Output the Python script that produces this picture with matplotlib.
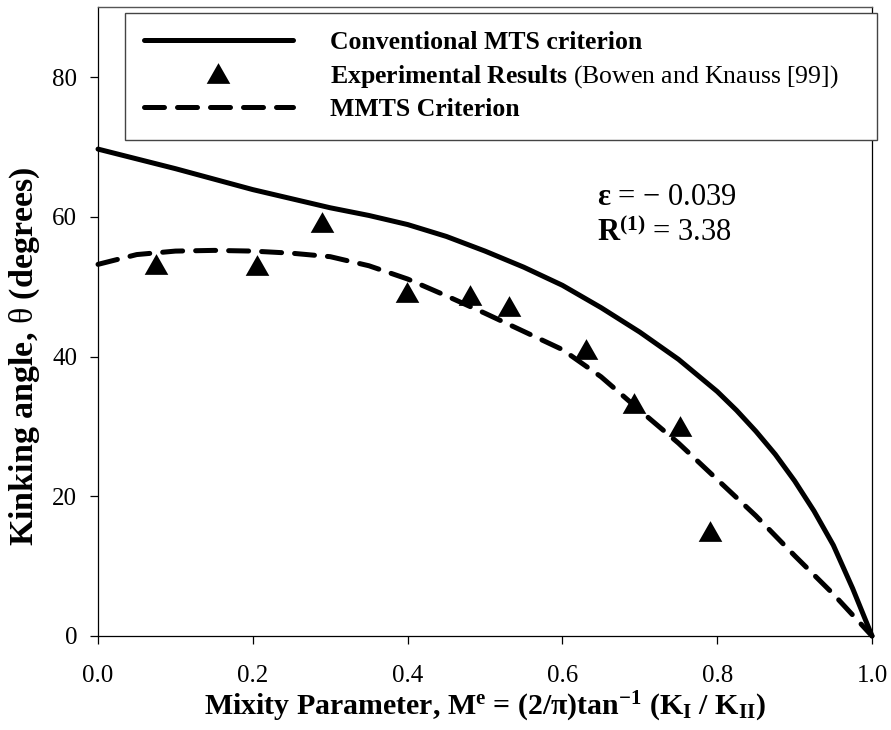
import matplotlib
matplotlib.use("Agg")
import matplotlib.pyplot as plt

plt.rcParams["font.family"] = ["Liberation Serif", "DejaVu Serif"]
plt.rcParams["mathtext.fontset"] = "custom"
plt.rcParams["mathtext.rm"] = "Liberation Serif"
plt.rcParams["mathtext.it"] = "Liberation Serif:italic"
plt.rcParams["mathtext.bf"] = "Liberation Serif:bold"

# conventional MTS criterion
mts_me = [0.0, 0.1, 0.2, 0.3, 0.35, 0.4, 0.45, 0.5, 0.55, 0.6, 0.65, 0.7,
          0.75, 0.8, 0.825, 0.85, 0.875, 0.9, 0.925, 0.95, 0.975, 1.0]
mts_theta = [69.7, 66.9, 63.9, 61.3, 60.2, 58.9, 57.2, 55.1, 52.8, 50.2, 47.0, 43.5,
             39.6, 35.0, 32.3, 29.3, 26.0, 22.2, 17.9, 13.0, 6.8, 0.0]

# modified MTS criterion
mmts_me = [0.0, 0.05, 0.1, 0.15, 0.2, 0.25, 0.3, 0.35, 0.4, 0.45, 0.5,
           0.55, 0.6, 0.65, 0.7, 0.75, 0.8, 0.85, 0.9, 0.95, 1.0]
mmts_theta = [53.2, 54.6, 55.1, 55.2, 55.1, 54.8, 54.3, 53.0, 51.1, 48.7, 46.2,
              43.6, 41.0, 37.1, 32.3, 27.6, 22.4, 17.2, 11.5, 6.0, 0.0]

# Bowen and Knauss experiments
exp_me = [0.075, 0.205, 0.290, 0.399, 0.481, 0.531, 0.631, 0.693, 0.752, 0.791]
exp_theta = [53.3, 53.1, 59.2, 49.3, 48.8, 47.3, 41.1, 33.3, 30.0, 15.0]

tri = [(0, 1), (-1.14, -1), (1.14, -1), (0, 1)]

fig = plt.figure(figsize=(8.91, 7.30), dpi=100)
ax = fig.add_axes([0.110, 0.1288, 0.8687, 0.8612])

ax.plot(mts_me, mts_theta, color="black", lw=3.6, solid_capstyle="round",
        solid_joinstyle="round", clip_on=False,
        label="Conventional MTS criterion", zorder=3)
ax.plot(exp_me, exp_theta, linestyle="none", marker=tri, markersize=17,
        markeredgewidth=0, color="black",
        label=r"Experimental Results $\mathrm{(Bowen\ and\ Knauss\ [99])}$", zorder=4)
ax.plot(mmts_me, mmts_theta, color="black", lw=3.6, dashes=(4, 2.6),
        dash_capstyle="round", clip_on=False, label="MMTS Criterion", zorder=3)

ax.set_xlim(0, 1.0)
ax.set_ylim(0, 90)
ax.set_xticks([0.0, 0.2, 0.4, 0.6, 0.8, 1.0])
ax.set_xticklabels(["0.0", "0.2", "0.4", "0.6", "0.8", "1.0"])
ax.set_yticks([0, 20, 40, 60, 80])

for side in ["left", "bottom", "right"]:
    ax.spines[side].set_linewidth(0.9)
    ax.spines[side].set_color("black")
ax.spines["top"].set_linewidth(1.0)
ax.spines["top"].set_color("#555555")

ax.tick_params(axis="both", direction="out", length=6, width=0.9,
               labelsize=18, top=False, right=False)
ax.tick_params(axis="y", pad=9)
ax.tick_params(axis="x", pad=15)

ax.set_xlabel(r"Mixity Parameter, M$^{\mathbf{e}}$ = (2/π)tan$^{\mathbf{-1}}$ "
              r"(K$_{\mathbf{I}}$ / K$_{\mathbf{II}}$)",
              fontsize=21.5, fontweight="bold", labelpad=2)
ax.set_ylabel(r"Kinking angle, $\mathrm{\theta}$ (degrees)",
              fontsize=24.5, fontweight="bold")
ax.yaxis.set_label_coords(-0.073, 40 / 90)

ax.text(0.645, 61.65, r"$\mathbf{\varepsilon}$ = − 0.039", fontsize=22, va="baseline")
ax.text(0.645, 56.5, r"$\mathbf{R}^{\mathbf{(1)}}$ = 3.38", fontsize=22, va="baseline")

leg = ax.legend(loc="upper left", bbox_to_anchor=(0.0349, 0.7862, 0.9716, 0.2052),
                mode="expand", borderaxespad=0, fancybox=False, framealpha=1,
                edgecolor="#444444", numpoints=1, handlelength=5.8,
                handletextpad=1.44, borderpad=0.72, labelspacing=0.335,
                prop={"size": 18.5, "weight": "bold"})
leg.get_frame().set_linewidth(1.0)

fig.savefig("out.png", dpi=100)
